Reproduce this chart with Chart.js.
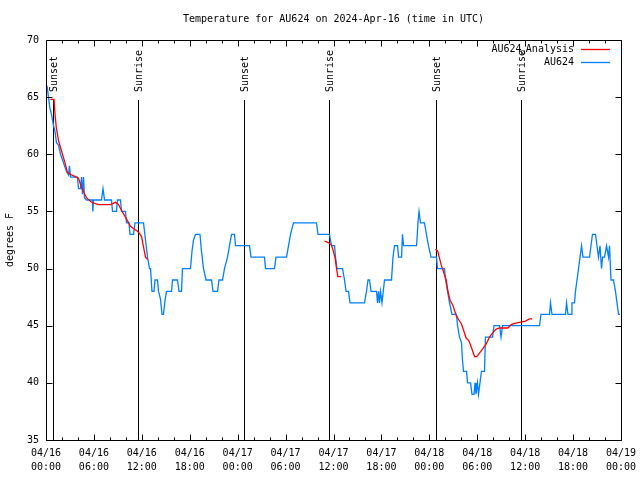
<!DOCTYPE html>
<html>
<head>
<meta charset="utf-8">
<title>Temperature for AU624</title>
<script src="https://cdn.jsdelivr.net/npm/chart.js@4.4.1/dist/chart.umd.min.js"></script>
<style>
  html, body { margin: 0; padding: 0; background: #fff; }
  #wrap { width: 640px; height: 480px; }
</style>
</head>
<body>
<div id="wrap"><canvas id="tempChart" width="640" height="480"></canvas></div>
<script>
// Datos (horas desde 04/16 00:00 UTC, grados F)
const obsHours = [
  0.13, 0.31, 0.50, 0.69, 0.94, 1.13, 1.31, 1.57, 1.82, 2.07, 2.32, 2.57, 2.82, 2.94, 3.07,
  3.94, 4.07, 4.32, 4.45, 4.57, 4.70, 4.82, 5.07, 5.82, 5.86, 5.95, 6.95, 7.14, 7.33, 8.20,
  8.33, 8.83, 8.95, 9.33, 9.45, 9.95, 10.08, 10.39, 10.52, 10.96, 11.14, 12.21, 12.46, 12.71,
  12.96, 13.09, 13.27, 13.52, 13.65, 13.96, 14.09, 14.34, 14.53, 14.71, 14.90, 15.09, 15.72,
  15.84, 16.47, 16.65, 16.97, 17.09, 18.09, 18.28, 18.47, 18.72, 19.28, 19.47, 19.72, 20.04,
  20.73, 20.91, 21.48, 21.66, 22.10, 22.35, 22.73, 22.98, 23.23, 23.60, 23.73, 25.48, 25.67,
  27.36, 27.49, 28.61, 28.80, 30.12, 30.37, 30.62, 30.99, 33.87, 34.06, 35.50, 35.75, 36.13,
  36.25, 36.44, 37.13, 37.38, 37.57, 37.88, 38.07, 39.88, 40.13, 40.32, 40.51, 40.70, 41.39,
  41.51, 41.64, 41.76, 41.89, 42.07, 42.39, 43.26, 43.45, 43.64, 44.02, 44.14, 44.52, 44.64,
  44.77, 46.40, 46.58, 46.71, 46.89, 47.39, 47.64, 47.89, 48.21, 48.90, 49.02, 49.90, 50.03,
  50.28, 50.53, 50.84, 51.40, 51.53, 51.78, 52.03, 52.15, 52.28, 52.66, 52.78, 53.16, 53.34,
  53.59, 53.72, 53.84, 54.03, 54.16, 54.34, 54.53, 54.91, 55.03, 55.91, 56.10, 56.79, 56.98,
  57.17, 61.80, 61.98, 63.05, 63.17, 63.36, 65.05, 65.18, 65.36, 65.74, 65.86, 66.18, 66.30,
  66.49, 66.68, 66.87, 67.06, 67.24, 68.06, 68.24, 68.43, 68.81, 68.99, 69.18, 69.37, 69.56,
  69.69, 69.94, 70.19, 70.44, 70.56, 70.75, 71.06, 71.31, 71.50, 71.69, 71.88
];
const obsTemps = [
  66, 65, 64, 63.5, 62.5, 62, 61, 60.8, 60, 59.5, 59, 58.5, 58.2, 59, 58,
  58, 57, 57, 58, 56.5, 58, 56.2, 56, 56, 55, 56, 56, 57, 56, 56,
  55, 55, 56, 56, 55, 55, 54, 54, 53, 53, 54, 54, 52.5, 51,
  50, 50, 48, 48, 49, 49, 48, 47.3, 46, 46, 47.2, 48, 48,
  49, 49, 48, 48, 50, 50, 51.5, 52.5, 53, 53, 51.5, 50, 49,
  49, 48, 48, 49, 49, 50, 51, 52, 53, 53, 52, 52, 51,
  51, 50, 50, 51, 51, 52, 53, 54, 54, 53, 53, 52, 52,
  51, 50, 50, 49, 48, 48, 47, 47, 48, 49, 49, 48, 48,
  47, 48, 47, 48, 47, 49, 49, 51, 52, 52, 51, 51, 53,
  52, 52, 54, 55, 54, 54, 53, 52, 51, 51, 50, 50, 49,
  48, 47, 46, 46, 45, 44, 43.5, 42, 41, 41, 40, 40, 39,
  39, 40, 39, 40, 39, 40, 41, 41, 44, 44, 45, 45, 44,
  45, 45, 46, 46, 47, 46, 46, 47, 46, 46, 47, 47, 48,
  49, 50, 51, 52, 51, 51, 52, 53, 53, 52, 51, 52, 50,
  51, 51, 52, 51, 52, 49, 49, 48, 47, 46, 46
];

// Serie de analisis: tres tramos separados por null
const anaHours = [
  0.53, 1.00, 1.13, 1.28, 1.57, 1.98, 2.40, 2.69, 3.19, 4.07, 4.45, 5.07, 5.70, 6.57, 8.08,
  8.70, 9.08, 9.45, 9.95, 10.58, 10.96, 11.58, 11.96, 12.21, 12.46, 12.71,
  12.80,
  34.87, 35.29, 35.71, 35.91, 36.21, 36.34, 36.54, 36.96,
  37.00,
  48.77, 49.06, 49.49, 49.69, 50.11, 50.31, 50.61, 50.94, 51.36, 51.69, 51.99, 52.19, 52.62,
  52.94, 53.37, 53.66, 53.94, 54.28, 54.70, 55.12, 55.53, 55.95, 56.37, 56.79, 57.83, 58.25,
  58.67, 59.29, 60.04, 60.54, 60.88
];
const anaTemps = [
  64.8, 64.8, 63.5, 62.4, 61.2, 60.2, 59.2, 58.4, 58.2, 57.9, 57.1, 56.2, 55.8, 55.6, 55.6,
  55.8, 55.6, 55.1, 54.5, 53.7, 53.5, 53.2, 52.8, 51.9, 51.0, 50.8,
  null,
  52.4, 52.3, 52.1, 51.7, 50.9, 50.2, 49.3, 49.3,
  null,
  51.7, 51.5, 50.3, 49.9, 49.0, 48.1, 47.2, 46.8, 45.9, 45.5, 45.2, 44.8, 43.9,
  43.7, 42.9, 42.3, 42.3, 42.6, 43.0, 43.4, 44.0, 44.4, 44.7, 44.8, 44.8, 45.1,
  45.2, 45.3, 45.4, 45.6, 45.6
];

// Salida y puesta de sol (horas)
const sunHours = [0.85, 11.50, 24.76, 35.41, 48.86, 59.50];
const sunLabels = ["Sunset", "Sunrise", "Sunset", "Sunrise", "Sunset", "Sunrise"];

// Etiquetas del eje X (cada 6 horas)
const tickDates = ["04/16", "04/16", "04/16", "04/16", "04/17", "04/17", "04/17",
                   "04/17", "04/18", "04/18", "04/18", "04/18", "04/19"];
const tickTimes = ["00:00", "06:00", "12:00", "18:00", "00:00", "06:00", "12:00",
                   "18:00", "00:00", "06:00", "12:00", "18:00", "00:00"];

const TITLE = "Temperature for AU624 on 2024-Apr-16 (time in UTC)";
const FONT_FAMILY = "'DejaVu Sans Mono', 'Liberation Mono', monospace";
const FONT = "10px " + FONT_FAMILY;
const BLUE = "#0080ff";
const RED = "#ff0000";

function toPoints(xs, ys) {
    return xs.map(function (x, i) {
        return { x: x, y: ys[i] };
    });
}

// Marco, marcas de ejes, lineas de sol, titulo y leyenda (estilo gnuplot)
const gnuplotDecor = {
    id: "gnuplotDecor",
    beforeDatasetsDraw(chart) {
        const { ctx, chartArea: a, scales } = chart;
        ctx.save();
        ctx.strokeStyle = "#000";
        ctx.fillStyle = "#000";
        ctx.lineWidth = 1;
        ctx.font = FONT;
        sunHours.forEach(function (t, i) {
            const px = Math.round(scales.x.getPixelForValue(t)) + 0.5;
            ctx.beginPath();
            ctx.moveTo(px, a.top + 60);
            ctx.lineTo(px, a.bottom);
            ctx.stroke();
            ctx.save();
            ctx.translate(px + 1, a.top + 52);
            ctx.rotate(-Math.PI / 2);
            ctx.textAlign = "left";
            ctx.textBaseline = "middle";
            ctx.fillText(sunLabels[i], 0, 0);
            ctx.restore();
        });
        ctx.restore();
    },
    afterDraw(chart) {
        const { ctx, chartArea: a, scales } = chart;
        const L = Math.round(a.left) + 0.5, R = Math.round(a.right) + 0.5;
        const T = Math.round(a.top) + 0.5, B = Math.round(a.bottom) + 0.5;
        ctx.save();
        ctx.strokeStyle = "#000";
        ctx.lineWidth = 1;
        ctx.beginPath();
        ctx.rect(L, T, R - L, B - T);
        // marcas X: mayores cada 6 h, menores cada 2 h
        for (let h = 0; h <= 72; h += 2) {
            const px = Math.round(scales.x.getPixelForValue(h)) + 0.5;
            const len = h % 6 === 0 ? 6 : 3;
            ctx.moveTo(px, B); ctx.lineTo(px, B - len);
            ctx.moveTo(px, T); ctx.lineTo(px, T + len);
        }
        for (let v = 35; v <= 70; v += 5) {
            const py = Math.round(scales.y.getPixelForValue(v)) + 0.5;
            ctx.moveTo(L, py); ctx.lineTo(L + 6, py);
            ctx.moveTo(R, py); ctx.lineTo(R - 6, py);
        }
        ctx.stroke();

        // titulo centrado sobre el area del grafico
        ctx.fillStyle = "#000";
        ctx.font = FONT;
        ctx.textAlign = "center";
        ctx.textBaseline = "middle";
        ctx.fillText(TITLE, (a.left + a.right) / 2, 19);

        // leyenda
        const textRight = 574;
        const row1 = a.top + 9.5, row2 = a.top + 22.5;
        ctx.textAlign = "right";
        ctx.fillText("Analysis", textRight, row1);
        let xs = textRight - ctx.measureText("Analysis").width;
        ctx.font = "7px " + FONT_FAMILY;
        ctx.fillText("a", xs, row1 + 3);
        xs -= ctx.measureText("a").width;
        ctx.font = FONT;
        ctx.fillText("AU624", xs, row1);
        ctx.fillText("AU624", textRight, row2);

        ctx.lineWidth = 1.3;
        ctx.strokeStyle = RED;
        ctx.beginPath(); ctx.moveTo(581, row1); ctx.lineTo(610, row1); ctx.stroke();
        ctx.strokeStyle = BLUE;
        ctx.beginPath(); ctx.moveTo(581, row2); ctx.lineTo(610, row2); ctx.stroke();
        ctx.restore();
    }
};

const ctx = document.getElementById("tempChart").getContext("2d");
const tempChart = new Chart(ctx, {
    type: "line",
    data: {
        datasets: [
            {
                label: "AU624 Analysis",
                data: toPoints(anaHours, anaTemps),
                borderColor: RED,
                borderWidth: 1.3,
                pointRadius: 0,
                tension: 0,
                spanGaps: false,
            },
            {
                label: "AU624",
                data: toPoints(obsHours, obsTemps),
                borderColor: BLUE,
                borderWidth: 1.3,
                pointRadius: 0,
                tension: 0,
            },
        ],
    },
    options: {
        responsive: false,
        animation: false,
        devicePixelRatio: 1,
        layout: { padding: { top: 40, right: 19, bottom: 0, left: 0 } },
        scales: {
            x: {
                type: "linear",
                min: 0,
                max: 72,
                grid: { display: false, drawTicks: false },
                border: { display: false },
                ticks: {
                    stepSize: 6,
                    color: "#000",
                    padding: 6,
                    maxRotation: 0,
                    autoSkip: false,
                    font: { family: FONT_FAMILY, size: 10, lineHeight: 1.4 },
                    callback: function (value, index) {
                        return [tickDates[index], tickTimes[index]];
                    },
                },
                afterFit: function (scale) {
                    scale.height = 40;
                    scale.paddingLeft = 0;
                    scale.paddingRight = 0;
                },
            },
            y: {
                min: 35,
                max: 70,
                grid: { display: false, drawTicks: false },
                border: { display: false },
                ticks: {
                    stepSize: 5,
                    color: "#000",
                    padding: 7,
                    font: { family: FONT_FAMILY, size: 10 },
                },
                title: {
                    display: true,
                    text: "degrees F",
                    color: "#000",
                    padding: { top: 4, bottom: 0 },
                    font: { family: FONT_FAMILY, size: 10 },
                },
                afterFit: function (scale) {
                    scale.width = 46;
                    scale.paddingTop = 0;
                    scale.paddingBottom = 0;
                },
            },
        },
        plugins: {
            legend: { display: false },
            tooltip: { enabled: false },
            title: { display: false },
        },
    },
    plugins: [gnuplotDecor],
});
</script>
</body>
</html>
